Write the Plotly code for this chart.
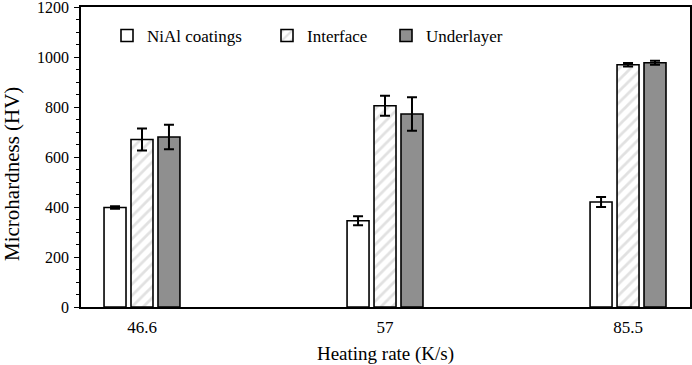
import plotly.graph_objects as go

categories = ["46.6", "57", "85.5"]
nial = [398, 345, 420]
nial_err = [5, 18, 20]
interface = [670, 805, 969]
interface_err = [44, 40, 7]
underlayer = [680, 772, 977]
underlayer_err = [49, 67, 8]
y_title = "Microhardness (HV)"
x_title = "Heating rate (K/s)"

FONT = "Times"
line = dict(color="black", width=1.6)
err = lambda v: dict(type="data", array=v, visible=True, color="black", thickness=2, width=5)

fig = go.Figure()
fig.add_trace(go.Bar(x=categories, y=nial, name="NiAl coatings", error_y=err(nial_err),
                     marker=dict(color="white", line=line), legend="legend"))
fig.add_trace(go.Bar(x=categories, y=interface, name="Interface", error_y=err(interface_err),
                     marker=dict(color="white", line=line,
                                 pattern=dict(shape="/", fgcolor="#c4c4c4", bgcolor="white",
                                              size=8, solidity=0.35)),
                     legend="legend2"))
fig.add_trace(go.Bar(x=categories, y=underlayer, name="Underlayer", error_y=err(underlayer_err),
                     marker=dict(color="#8f8f8f", line=line), legend="legend3"))

W, H = 692, 365
L, R, T, B = 81, 2, 7, 58
pw = W - L - R
ph = H - T - B

def leg(text_x):
    return dict(x=(text_x - 40 - L) / pw, xanchor="left", y=1 - (36 - T) / ph,
                yanchor="middle", orientation="h", bgcolor="rgba(0,0,0,0)",
                font=dict(family=FONT, size=17, color="black"))

fig.add_annotation(text=y_title, textangle=-90, xref="paper", yref="paper",
                   x=0, y=1 - (174 - T) / ph, xanchor="center", yanchor="middle",
                   xshift=12 - L, showarrow=False,
                   font=dict(family=FONT, size=21, color="black"))

fig.update_layout(
    width=W, height=H,
    margin=dict(l=L, r=R, t=T, b=B, autoexpand=False),
    paper_bgcolor="white", plot_bgcolor="white",
    font=dict(family=FONT, size=17, color="black"),
    barmode="group", bargap=0.667, bargroupgap=0.185,
    showlegend=True,
    legend=leg(147), legend2=leg(307), legend3=leg(426),
    xaxis=dict(type="category", range=[-0.251, 2.255], showline=True, linecolor="black",
               linewidth=1.5, mirror=True, ticks="", showgrid=False, automargin=False,
               ticklabelstandoff=4,
               title=dict(text=x_title, font=dict(family=FONT, size=19), standoff=12),
               tickfont=dict(family=FONT, size=17)),
    yaxis=dict(range=[0, 1200], dtick=200, showline=True, linecolor="black", linewidth=1.5,
               mirror=True, ticks="outside", ticklen=5, tickwidth=1.2, tickcolor="black",
               showgrid=False, zeroline=False, automargin=False, ticklabeloverflow="allow",
               ticklabelstandoff=2,
               minor=dict(dtick=50, ticks="outside", ticklen=3, tickwidth=1, tickcolor="black"),
               tickfont=dict(family=FONT, size=16)),
)

fig.write_html("out.html", config={"displayModeBar": False},
               post_script="document.body.style.margin='0';")
